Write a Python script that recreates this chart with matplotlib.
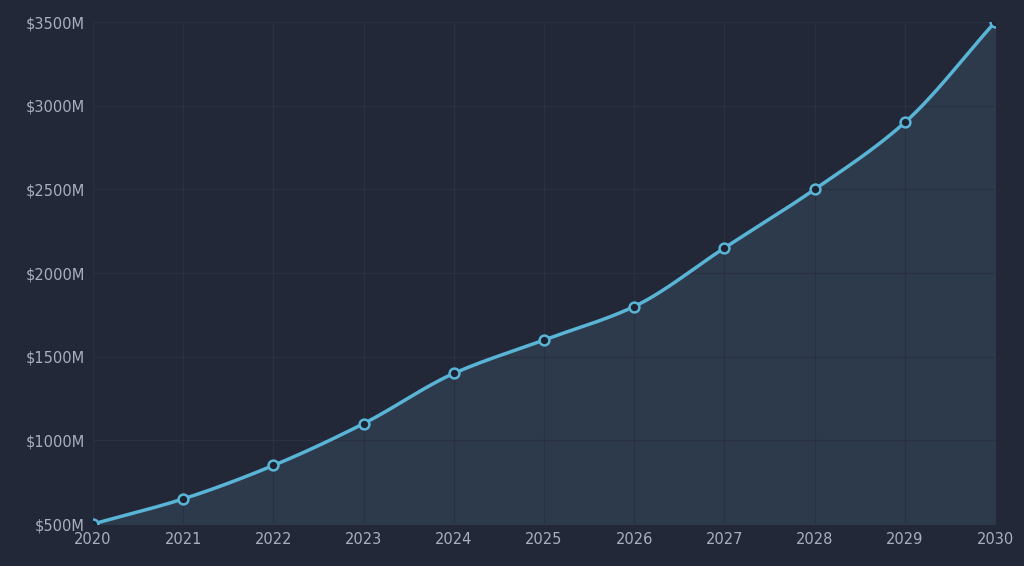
import matplotlib.pyplot as plt
import numpy as np

years = [2020, 2021, 2022, 2023, 2024, 2025, 2026, 2027, 2028, 2029, 2030]
revenue = [500, 650, 850, 1100, 1400, 1600, 1800, 2150, 2500, 2900, 3500]
yticks = [500, 1000, 1500, 2000, 2500, 3000, 3500]


def monotone(x, y, n=30):
    # monotone cubic (Fritsch-Carlson) for the smooth line
    x = np.asarray(x, float)
    y = np.asarray(y, float)
    h = np.diff(x)
    d = np.diff(y) / h
    m = np.zeros_like(y)
    m[0], m[-1] = d[0], d[-1]
    for i in range(1, len(y) - 1):
        if d[i - 1] * d[i] > 0:
            m[i] = 2 / (1 / d[i - 1] + 1 / d[i])
    xs, ys = [], []
    for i in range(len(h)):
        t = np.linspace(0, 1, n, endpoint=False)
        h00 = 2 * t**3 - 3 * t**2 + 1
        h10 = t**3 - 2 * t**2 + t
        h01 = -2 * t**3 + 3 * t**2
        h11 = t**3 - t**2
        xs.append(x[i] + t * h[i])
        ys.append(h00 * y[i] + h10 * h[i] * m[i] + h01 * y[i + 1] + h11 * h[i] * m[i + 1])
    xs.append([x[-1]])
    ys.append([y[-1]])
    return np.concatenate(xs), np.concatenate(ys)


bg = '#222837'
fig = plt.figure(figsize=(10.24, 5.66), dpi=100, facecolor=bg)
ax = fig.add_axes([0.0908, 0.0742, 0.8809, 0.8868])
ax.set_facecolor(bg)

sx, sy = monotone(years, revenue)
ax.fill_between(sx, 500, sy, color='#2c3a4c', zorder=1)
ax.plot(sx, sy, color='#5ab4d6', lw=2.5, zorder=3)
ax.scatter(years, revenue, s=50, facecolor='#1c2230', edgecolor='#5ab4d6', linewidth=1.8, zorder=4)

ax.set_xlim(2020, 2030)
ax.set_ylim(500, 3500)
ax.set_xticks(years)
ax.set_yticks(yticks)
ax.set_yticklabels([f'${v}M' for v in yticks])
ax.tick_params(colors='#a9afbf', labelsize=10.5, length=0, pad=6)
ax.grid(True, color='#2a3040', lw=0.8, zorder=0)
for s in ax.spines.values():
    s.set_visible(False)

fig.savefig('out.png', dpi=100, facecolor=bg)
